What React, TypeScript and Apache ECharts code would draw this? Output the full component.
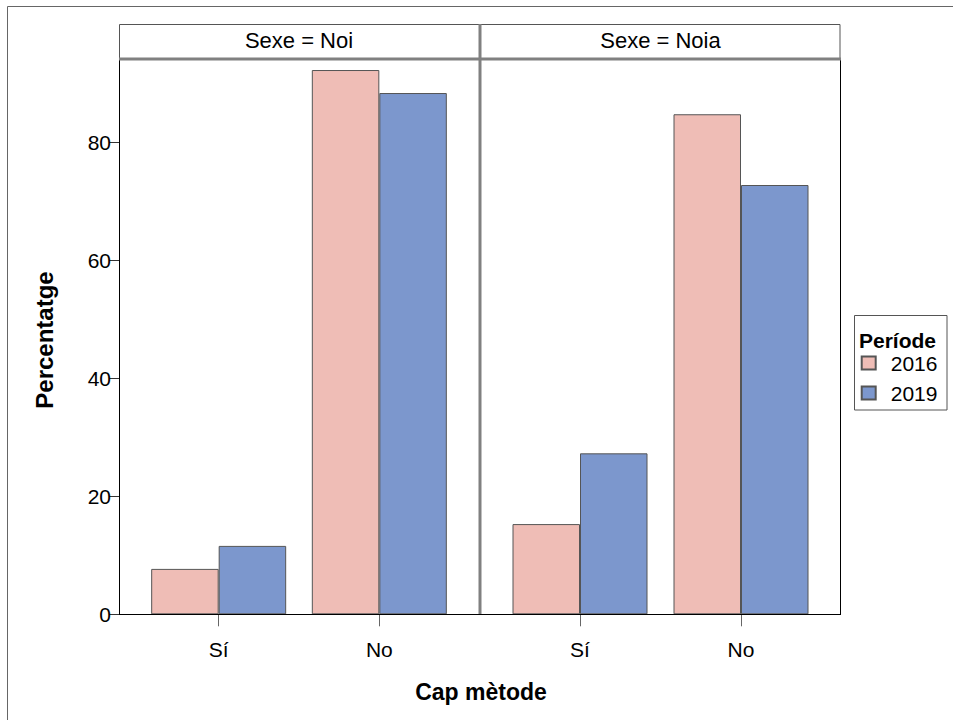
import React, { useEffect, useRef } from "react";
import * as echarts from "echarts";

const categories = ["Sí", "No"];
const panelTitles = ["Sexe = Noi", "Sexe = Noia"];
const periods = ["2016", "2019"];
const noi2016 = [7.7, 92.3];
const noi2019 = [11.6, 88.4];
const noia2016 = [15.3, 84.8];
const noia2019 = [27.3, 72.8];

const PINK = "#EFBDB6";
const BLUE = "#7C97CD";
const FONT = "Liberation Sans, Arial, sans-serif";

export default function App() {
  const ref = useRef<HTMLDivElement>(null);
  useEffect(() => {
    if (!ref.current) return;
    const chart = echarts.init(ref.current, undefined, { renderer: "svg" });
    const top = 60;
    const bottom = 720 - 614.3;
    const yMax = 94;
    const barStyle = (c: string) => ({ color: c, borderColor: "#555555", borderWidth: 1 });
    const xAxisBase = {
      type: "category" as const,
      data: categories,
      axisLine: { show: false },
      axisTick: { show: true, alignWithLabel: true, length: 12, lineStyle: { color: "#666666" } },
      axisLabel: { fontSize: 21, color: "#000", fontFamily: FONT, margin: 25 },
    };
    chart.setOption({
      animation: false,
      textStyle: { fontFamily: FONT },
      grid: [
        { left: 138.35, width: 321.3, top, bottom },
        { left: 499.5, width: 322, top, bottom },
      ],
      xAxis: [
        { ...xAxisBase, gridIndex: 0 },
        { ...xAxisBase, gridIndex: 1 },
      ],
      yAxis: [
        {
          type: "value",
          gridIndex: 0,
          min: 0,
          max: yMax,
          interval: 20,
          offset: 19.35,
          axisLine: { show: true, lineStyle: { color: "#000", width: 1 } },
          axisTick: { show: true, length: 10, lineStyle: { color: "#333" } },
          axisLabel: {
            fontSize: 21,
            color: "#000",
            fontFamily: FONT,
            margin: 8,
            showMaxLabel: false,
          },
          splitLine: { show: false },
        },
        {
          type: "value",
          gridIndex: 1,
          min: 0,
          max: yMax,
          interval: 20,
          axisLine: { show: false },
          axisTick: { show: false },
          axisLabel: { show: false },
          splitLine: { show: false },
        },
      ],
      legend: {
        orient: "vertical",
        left: 860.7,
        top: 352.5,
        padding: 0,
        itemWidth: 14,
        itemHeight: 13,
        itemGap: 9,
        icon: "rect",
        data: periods,
        textStyle: { fontSize: 21, color: "#000", fontFamily: FONT, padding: [0, 0, 0, 10], lineHeight: 21 },
      },
      series: [
        { name: periods[0], type: "bar", xAxisIndex: 0, yAxisIndex: 0, data: noi2016, barWidth: 67.5, barGap: "0%", itemStyle: barStyle(PINK) },
        { name: periods[1], type: "bar", xAxisIndex: 0, yAxisIndex: 0, data: noi2019, barWidth: 67.5, barGap: "0%", itemStyle: barStyle(BLUE) },
        { name: periods[0], type: "bar", xAxisIndex: 1, yAxisIndex: 1, data: noia2016, barWidth: 67.5, barGap: "0%", itemStyle: barStyle(PINK) },
        { name: periods[1], type: "bar", xAxisIndex: 1, yAxisIndex: 1, data: noia2019, barWidth: 67.5, barGap: "0%", itemStyle: barStyle(BLUE) },
      ],
      graphic: [
        // outer frame
        { type: "rect", z: 20, shape: { x: 7.5, y: 6.5, width: 1200, height: 1200 }, style: { fill: "none", stroke: "#666", lineWidth: 1 } },
        // header strips
        { type: "rect", z: 20, shape: { x: 119.5, y: 24.5, width: 360, height: 34 }, style: { fill: "#fff", stroke: "#555", lineWidth: 1 } },
        { type: "rect", z: 20, shape: { x: 480.5, y: 24.5, width: 359.5, height: 34 }, style: { fill: "#fff", stroke: "#555", lineWidth: 1 } },
        { type: "text", z: 21, x: 299, y: 40, style: { text: panelTitles[0], font: `22px ${FONT}`, fill: "#000", align: "center", verticalAlign: "middle" } },
        { type: "text", z: 21, x: 660.5, y: 40, style: { text: panelTitles[1], font: `22px ${FONT}`, fill: "#000", align: "center", verticalAlign: "middle" } },
        // frames
        { type: "line", z: 20, shape: { x1: 840.5, y1: 58, x2: 840.5, y2: 614.5 }, style: { stroke: "#000", lineWidth: 1 } },
        { type: "line", z: 20, shape: { x1: 119, y1: 614.5, x2: 841, y2: 614.5 }, style: { stroke: "#000", lineWidth: 1 } },
        { type: "line", z: 22, shape: { x1: 119, y1: 59, x2: 841, y2: 59 }, style: { stroke: "#808080", lineWidth: 3 } },
        { type: "line", z: 22, shape: { x1: 480, y1: 24, x2: 480, y2: 614 }, style: { stroke: "#808080", lineWidth: 3 } },
        // axis titles
        { type: "text", z: 21, x: 44, y: 340, rotation: Math.PI / 2, style: { text: "Percentatge", font: `bold 24px ${FONT}`, fill: "#000", align: "center", verticalAlign: "middle" } },
        { type: "text", z: 21, x: 481, y: 692, style: { text: "Cap mètode", font: `bold 23px ${FONT}`, fill: "#000", align: "center", verticalAlign: "middle" } },
        // legend box and title
        { type: "rect", z: 20, shape: { x: 854.5, y: 315.5, width: 92.5, height: 94.5 }, style: { fill: "none", stroke: "#555", lineWidth: 1 } },
        { type: "text", z: 21, x: 859, y: 340.5, style: { text: "Període", font: `bold 21px ${FONT}`, fill: "#000", align: "left", verticalAlign: "middle" } },
      ],
    });
    return () => chart.dispose();
  }, []);
  return (
    <div
      ref={ref}
      style={{ position: "fixed", left: 0, top: 0, width: 953, height: 720, background: "#fff" }}
    />
  );
}
